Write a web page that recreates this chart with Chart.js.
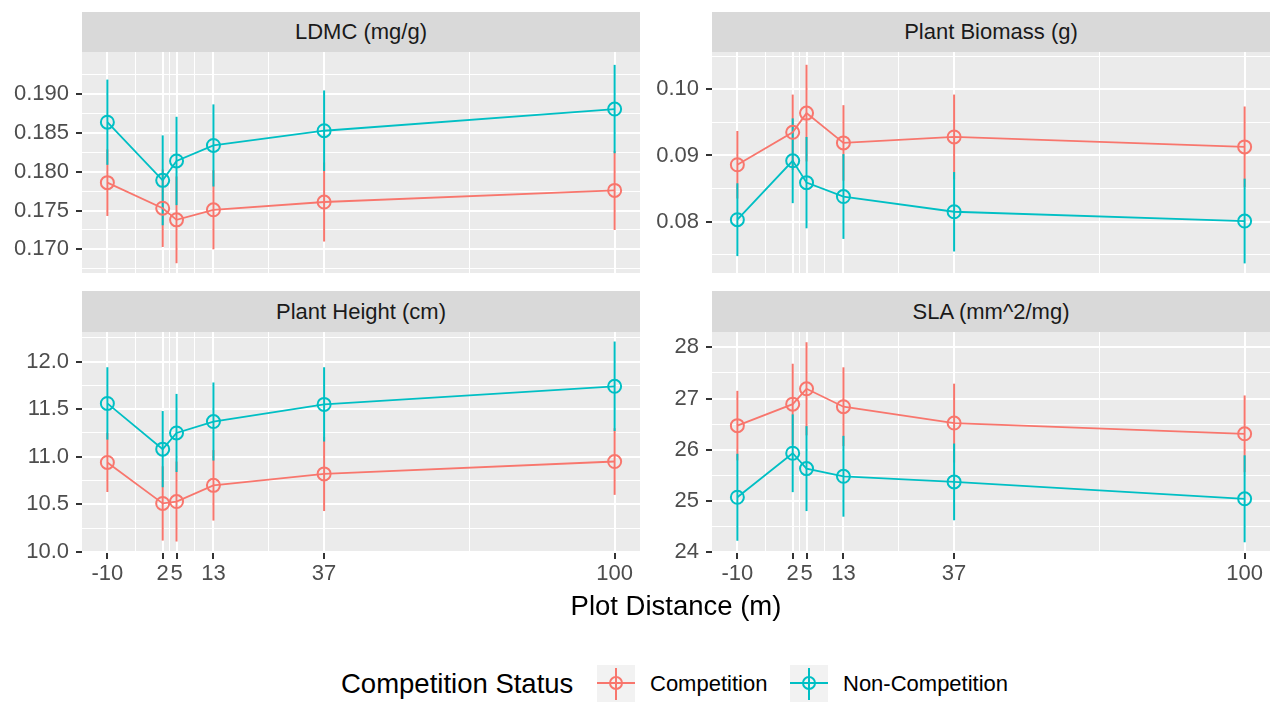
<!DOCTYPE html>
<html>
<head>
<meta charset="utf-8">
<script src="https://cdn.jsdelivr.net/npm/chart.js@4.4.0/dist/chart.umd.min.js"></script>
<style>
  body { margin: 0; background: #fff; }
  #page { position: relative; width: 1277px; height: 702px; background: #fff; overflow: hidden;
          font-family: 'Liberation Sans', Arial, sans-serif; }
  canvas { position: absolute; }
  .strip { position: absolute; background: #D9D9D9; color: #1A1A1A; font-size: 22px;
           display: flex; align-items: center; justify-content: center; }
  .txt { position: absolute; white-space: nowrap; line-height: 1; }
  .cle { position: absolute; width: 38px; height: 37px; background: #F2F2F2; }
  .cle .h { position: absolute; left: 0; right: 0; top: 17px; height: 2px; }
  .cle .v { position: absolute; left: 18px; width: 2px; top: 3px; bottom: 2px; }
  .cle .o { position: absolute; left: 12px; top: 11px; width: 10px; height: 10px; border: 2px solid; border-radius: 50%; }
</style>
</head>
<body>
<div id="page"></div>
<script>
// distances des placettes (axe x commun)
const distances = [-10, 2, 5, 13, 37, 100]
const xTicks = [-10, 2, 5, 13, 37, 100]
const xMinor = [-4, 3.5, 9, 25, 68.5]

// LDMC (mg/g)
const ldmcComp = [0.1786, 0.1753, 0.1738, 0.1751, 0.1761, 0.1776]
const ldmcCompErr = [0.0043, 0.0050, 0.0056, 0.0051, 0.0051, 0.0051]
const ldmcNon = [0.1864, 0.1789, 0.1814, 0.1834, 0.1853, 0.1881]
const ldmcNonErr = [0.0055, 0.0058, 0.0057, 0.0053, 0.0052, 0.0057]
const ldmcTicks = [0.170, 0.175, 0.180, 0.185, 0.190]

// Plant Biomass (g)
const bioComp = [0.0886, 0.0935, 0.0964, 0.0919, 0.0928, 0.0913]
const bioCompErr = [0.0051, 0.0057, 0.0073, 0.0057, 0.0064, 0.0061]
const bioNon = [0.0803, 0.0892, 0.0859, 0.0838, 0.0815, 0.0801]
const bioNonErr = [0.0055, 0.0064, 0.0069, 0.0064, 0.0060, 0.0064]
const bioTicks = [0.08, 0.09, 0.10]

// Plant Height (cm)
const hautComp = [10.94, 10.51, 10.53, 10.70, 10.82, 10.95]
const hautCompErr = [0.31, 0.39, 0.42, 0.37, 0.39, 0.35]
const hautNon = [11.56, 11.08, 11.25, 11.37, 11.55, 11.74]
const hautNonErr = [0.38, 0.40, 0.41, 0.41, 0.39, 0.47]
const hautTicks = [10.0, 10.5, 11.0, 11.5, 12.0]

// SLA (mm^2/mg)
const slaComp = [26.47, 26.89, 27.19, 26.84, 26.52, 26.31]
const slaCompErr = [0.68, 0.79, 0.91, 0.77, 0.77, 0.75]
const slaNon = [25.07, 25.93, 25.63, 25.48, 25.37, 25.04]
const slaNonErr = [0.85, 0.76, 0.83, 0.79, 0.75, 0.85]
const slaTicks = [24, 25, 26, 27, 28]

const rouge = '#F8766D'
const turquoise = '#00BFC4'
const police = "'Liberation Sans', Arial, sans-serif"
Chart.defaults.font.family = police

const page = document.getElementById('page')

//fond gris du panneau
const fondPanneau = {
  id: 'fondPanneau',
  beforeDraw(chart) {
    const a = chart.chartArea
    chart.ctx.save()
    chart.ctx.fillStyle = '#EBEBEB'
    chart.ctx.fillRect(a.left, a.top, a.right - a.left, a.bottom - a.top)
    chart.ctx.restore()
  }
}

//barres d'erreur verticales, tracées avec les échelles du graphe
const barresErreur = {
  id: 'barresErreur',
  beforeDatasetsDraw(chart) {
    const ctx = chart.ctx
    const xs = chart.scales.x
    const ys = chart.scales.y
    ctx.save()
    ctx.lineWidth = 2
    chart.data.datasets.forEach(ds => {
      ctx.strokeStyle = ds.borderColor
      ds.data.forEach((p, i) => {
        const px = xs.getPixelForValue(p.x)
        ctx.beginPath()
        ctx.moveTo(px, ys.getPixelForValue(p.y - ds.erreurs[i]))
        ctx.lineTo(px, ys.getPixelForValue(p.y + ds.erreurs[i]))
        ctx.stroke()
      })
    })
    ctx.restore()
  }
}

const minorEntre = (ticks, min, max) => {
  let res = []
  const pas = ticks[1] - ticks[0]
  for (let i = -1; i < ticks.length; i++) {
    const v = ticks[0] + pas * (i + 0.5)
    if (v > min && v < max) res.push(v)
  }
  return res
}

// ticks majeurs + mineurs, triés
const listeTicks = (majeurs, mineurs) =>
  majeurs.map(v => ({ value: v })).concat(mineurs.map(v => ({ value: v, mineur: true })))
    .sort((a, b) => a.value - b.value)

// pas de marge automatique autour des axes
const sansPadding = (s) => {
  s.paddingTop = 0
  s.paddingBottom = 0
  s.paddingLeft = 0
  s.paddingRight = 0
}

const creerPanneau = (p) => {
  //bandeau titre
  const strip = document.createElement('div')
  strip.className = 'strip'
  strip.style.left = p.plotLeft + 'px'
  strip.style.top = p.stripTop + 'px'
  strip.style.width = p.plotWidth + 'px'
  strip.style.height = (p.plotTop - p.stripTop) + 'px'
  strip.innerText = p.titre
  page.appendChild(strip)

  const xh = p.basAxe ? 45 : 0
  const canvas = document.createElement('canvas')
  canvas.width = p.yw + p.plotWidth
  canvas.height = p.plotHeight + xh
  canvas.style.left = (p.plotLeft - p.yw) + 'px'
  canvas.style.top = p.plotTop + 'px'
  canvas.style.width = canvas.width + 'px'
  canvas.style.height = canvas.height + 'px'
  page.appendChild(canvas)

  const yMinor = minorEntre(p.yTicks, p.yMin, p.yMax)

  new Chart(canvas, {
    type: 'scatter',
    data: {
      datasets: [
        {
          label: 'Competition',
          data: distances.map((d, i) => ({ x: d, y: p.comp[i] })),
          erreurs: p.compErr,
          borderColor: rouge,
          showLine: true,
          borderWidth: 1.8,
          pointRadius: 6.5,
          pointBorderWidth: 2,
          pointBackgroundColor: 'rgba(0,0,0,0)',
          pointBorderColor: rouge
        },
        {
          label: 'Non-Competition',
          data: distances.map((d, i) => ({ x: d, y: p.non[i] })),
          erreurs: p.nonErr,
          borderColor: turquoise,
          showLine: true,
          borderWidth: 1.8,
          pointRadius: 6.5,
          pointBorderWidth: 2,
          pointBackgroundColor: 'rgba(0,0,0,0)',
          pointBorderColor: turquoise
        }
      ]
    },
    options: {
      responsive: false,
      animation: false,
      devicePixelRatio: 1,
      layout: { padding: 0, autoPadding: false },
      plugins: { legend: { display: false }, tooltip: { enabled: false } },
      scales: {
        x: {
          type: 'linear',
          min: -15.5,
          max: 105.5,
          afterBuildTicks: (s) => { s.ticks = listeTicks(xTicks, xMinor) },
          afterFit: (s) => { s.height = xh; sansPadding(s) },
          border: { display: false },
          grid: {
            color: '#FFFFFF',
            lineWidth: (c) => c.tick && c.tick.mineur ? 1 : 2,
            drawTicks: p.basAxe,
            tickLength: 7,
            tickWidth: 2,
            tickColor: (c) => c.tick && c.tick.mineur ? 'rgba(0,0,0,0)' : '#333333'
          },
          ticks: {
            display: p.basAxe,
            autoSkip: false,
            maxRotation: 0,
            minRotation: 0,
            padding: 2,
            color: '#4D4D4D',
            font: { size: 22 },
            callback: (v, i, t) => t[i].mineur ? '' : String(v)
          }
        },
        y: {
          min: p.yMin,
          max: p.yMax,
          afterBuildTicks: (s) => { s.ticks = listeTicks(p.yTicks, yMinor) },
          afterFit: (s) => { s.width = p.yw; sansPadding(s) },
          border: { display: false },
          grid: {
            color: '#FFFFFF',
            lineWidth: (c) => c.tick && c.tick.mineur ? 1 : 2,
            tickLength: 6,
            tickWidth: 2,
            tickColor: (c) => c.tick && c.tick.mineur ? 'rgba(0,0,0,0)' : '#333333'
          },
          ticks: {
            autoSkip: false,
            padding: 7,
            color: '#4D4D4D',
            font: { size: 22 },
            callback: (v, i, t) => t[i].mineur ? '' : Number(v).toFixed(p.decimales)
          }
        }
      }
    },
    plugins: [fondPanneau, barresErreur]
  })
}

creerPanneau({ titre: 'LDMC (mg/g)', comp: ldmcComp, compErr: ldmcCompErr, non: ldmcNon, nonErr: ldmcNonErr,
  yMin: 0.16694, yMax: 0.19546, yTicks: ldmcTicks, decimales: 3,
  plotLeft: 82, plotWidth: 558, stripTop: 12, plotTop: 52, plotHeight: 221, yw: 82, basAxe: false })
creerPanneau({ titre: 'Plant Biomass (g)', comp: bioComp, compErr: bioCompErr, non: bioNon, nonErr: bioNonErr,
  yMin: 0.07225, yMax: 0.10563, yTicks: bioTicks, decimales: 2,
  plotLeft: 712, plotWidth: 558, stripTop: 12, plotTop: 52, plotHeight: 221, yw: 72, basAxe: false })
creerPanneau({ titre: 'Plant Height (cm)', comp: hautComp, compErr: hautCompErr, non: hautNon, nonErr: hautNonErr,
  yMin: 10.0, yMax: 12.31, yTicks: hautTicks, decimales: 1,
  plotLeft: 82, plotWidth: 558, stripTop: 291, plotTop: 332, plotHeight: 220, yw: 82, basAxe: true })
creerPanneau({ titre: 'SLA (mm^2/mg)', comp: slaComp, compErr: slaCompErr, non: slaNon, nonErr: slaNonErr,
  yMin: 24.0, yMax: 28.3, yTicks: slaTicks, decimales: 0,
  plotLeft: 712, plotWidth: 558, stripTop: 291, plotTop: 332, plotHeight: 220, yw: 72, basAxe: true })

//titre axe x
const titreX = document.createElement('div')
titreX.className = 'txt'
titreX.style.left = '0px'
titreX.style.width = '1352px'
titreX.style.textAlign = 'center'
titreX.style.top = '592px'
titreX.style.fontSize = '27.5px'
titreX.style.color = '#000'
titreX.innerText = 'Plot Distance (m)'
page.appendChild(titreX)

//légende
const ajoutTexte = (texte, left, top, taille) => {
  const t = document.createElement('div')
  t.className = 'txt'
  t.style.left = left + 'px'
  t.style.top = top + 'px'
  t.style.fontSize = taille + 'px'
  t.style.color = '#000'
  t.innerText = texte
  page.appendChild(t)
}
const ajoutCle = (left, couleur) => {
  const c = document.createElement('div')
  c.className = 'cle'
  c.style.left = left + 'px'
  c.style.top = '665px'
  c.innerHTML = '<div class="h"></div><div class="v"></div><div class="o"></div>'
  c.querySelector('.h').style.background = couleur
  c.querySelector('.v').style.background = couleur
  c.querySelector('.o').style.borderColor = couleur
  page.appendChild(c)
}
ajoutTexte('Competition Status', 341, 670, 27.5)
ajoutCle(597, rouge)
ajoutTexte('Competition', 650, 673, 22)
ajoutCle(790, turquoise)
ajoutTexte('Non-Competition', 843, 673, 22)
</script>
</body>
</html>
